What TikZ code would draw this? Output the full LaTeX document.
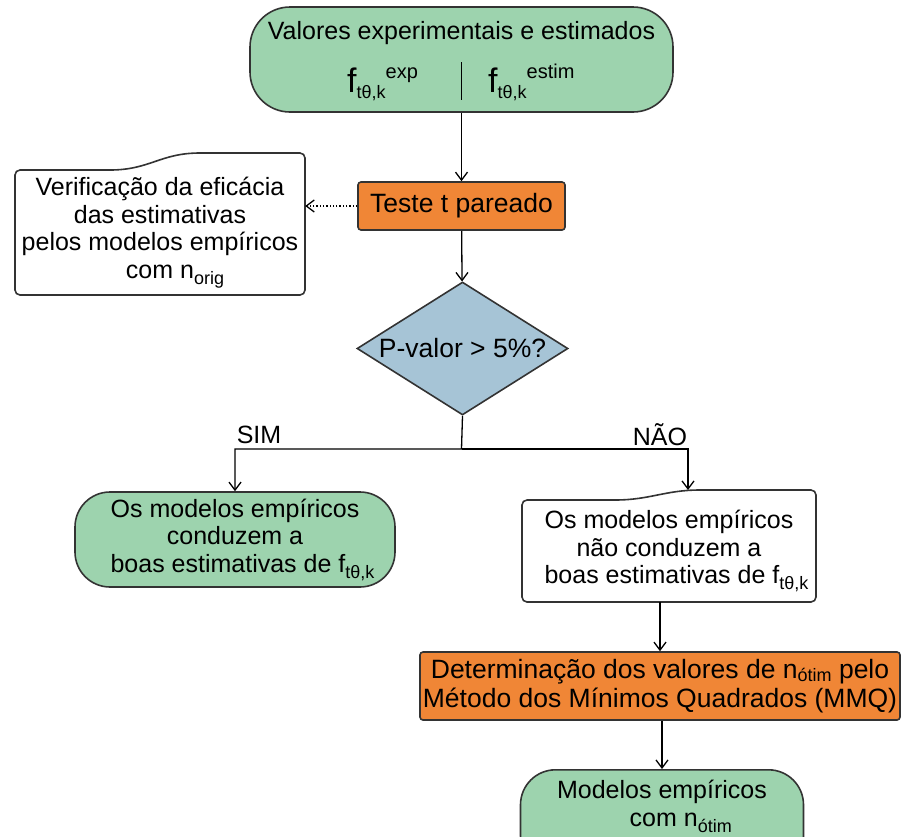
\documentclass[tikz,border=0pt]{standalone}
\usepackage{fontspec}
\setmainfont{Liberation Sans}
\usepackage{xcolor}
\usetikzlibrary{arrows.meta}
\usetikzlibrary{calc}
\usetikzlibrary{shapes.geometric}
\definecolor{verdecx}{RGB}{157,211,174}
\definecolor{laranjacx}{RGB}{240,134,54}
\definecolor{azulcx}{RGB}{166,196,214}
\newcommand{\Low}[2][-6pt]{\raisebox{#1}{\fontsize{18}{18}\selectfont #2}}
\newcommand{\High}[1]{\raisebox{14pt}{\fontsize{20}{20}\selectfont #1}}
\newcommand{\Ff}{{\fontsize{34}{34}\selectfont f}}

\begin{document}
\begin{tikzpicture}[x=1pt, y=-1pt, font=\fontsize{25}{27.5}\selectfont,
      >={Straight Barb[length=8pt,width=12pt]},
      caixa/.style={draw=black!80, line width=1.6pt},
      termo/.style={caixa, fill=verdecx, rounded corners=35pt},
      processo/.style={caixa, fill=laranjacx, rounded corners=3pt,
        font=\fontsize{26.5}{28.5}\selectfont, inner sep=2pt},
      texto/.style={align=center, inner sep=0pt},
      seta/.style={line width=1.3pt}]
      \useasboundingbox (0,0) rectangle (902,836);

      % caixas com topo ondulado
      \draw[caixa, fill=white, rounded corners=5pt] (15,295) -- (15,170) -- (105,170)
        .. controls (150,170) and (160,153) .. (205,153) -- (305,153) -- (305,295) -- cycle;
      \draw[caixa, fill=white, rounded corners=5pt] (522,602) -- (522,500) -- (610,500)
        .. controls (650,500) and (665,490) .. (705,490) -- (816,490) -- (816,602) -- cycle;

      \node[termo, rounded corners=40pt, minimum width=423pt, minimum height=105pt]
        (vals) at (461.5,59.5) {};
      \node[anchor=base, inner sep=0pt] (titulo) at (461.5,39)
        {Valores experimentais e estimados};
      \node[anchor=base west, inner sep=0pt] (fexp) at (347,92)
        {\Ff\Low{tθ,k}\High{exp}};
      \node[anchor=base west, inner sep=0pt] (festim) at (488,92)
        {\Ff\Low{tθ,k}\High{estim}};
      \draw[line width=1.2pt] (461.5,62) -- (461.5,100);

      \node[processo, minimum width=207pt, minimum height=48pt] (teste) at (461.5,206)
        {Teste t pareado};
      \node[texto, minimum width=290pt, minimum height=125pt] (verif) at (160,232.5)
        {Verificação da eficácia\\das estimativas\\pelos modelos empíricos\\
         \hspace*{1.2em}com n\Low{orig}};

      \node[diamond, draw=black!80, line width=1.6pt, fill=azulcx, aspect=1.58,
        inner sep=0pt, minimum width=211pt, minimum height=133pt,
        font=\fontsize{26.5}{28}\selectfont] (dec) at (462.5,348.5) {P-valor > 5\%?};

      \coordinate (split) at (461.5,449);
      \coordinate (naotopo) at (688,490);
      \node (sim) at (259,435) {SIM};
      \node (naolbl) at (660,435) {NÃO};

      \node[termo, minimum width=320pt, minimum height=95pt, align=center, inner sep=0pt]
        (simbox) at (235,539.5)
        {Os modelos empíricos\\conduzem a\\\hspace*{0.6em}boas estimativas de f\Low{tθ,k}};
      \node[texto, minimum width=294pt, minimum height=102pt] (nao) at (669,551)
        {Os modelos empíricos\\não conduzem a\\\hspace*{0.6em}boas estimativas de f\Low{tθ,k}};

      \node[processo, minimum width=480pt, minimum height=68pt, align=center]
        (mmq) at (660,686)
        {Determinação dos valores de n\Low[-3pt]{ótim} pelo\\Método dos Mínimos Quadrados (MMQ)};

      \node[termo, anchor=north, minimum width=283pt, minimum height=101pt]
        (otim) at (662,769) {};
      \node[texto] (otimtxt) at (662,806.5)
        {Modelos empíricos\\\hspace*{1.5em}com n\Low{ótim}};

      \path[->, seta] (vals) edge (teste);
      \path[->, seta] (teste) edge (dec);
      \path[->, seta, dotted] (teste.west) edge (teste.west -| verif.east);
      \draw[->, seta] (dec.south) -- (split) -| (simbox.north);
      \draw[->, seta] (split) -| (naotopo);
      \path[->, seta] (mmq.north |- nao.south) edge (mmq.north);
      \path[->, seta] (mmq.south -| otim.north) edge (otim.north);
    \end{tikzpicture}
\end{document}
